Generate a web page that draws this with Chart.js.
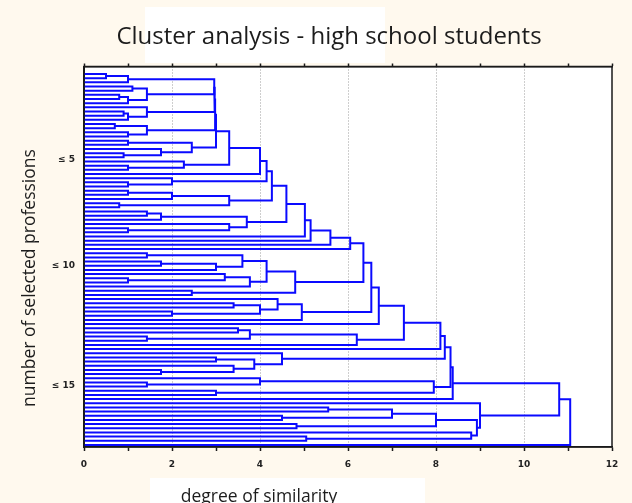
<!DOCTYPE html>
<html>
<head>
<meta charset="utf-8">
<title>Cluster analysis - high school students</title>
<script src="https://cdn.jsdelivr.net/npm/chart.js@4.4.1/dist/chart.umd.min.js"></script>
<style>
  html, body { margin: 0; padding: 0; background: #fff9ee; }
  #wrap { position: relative; width: 632px; height: 503px; }
</style>
</head>
<body>
<div id="wrap"><canvas id="chart" width="632" height="503"></canvas></div>
<script>
// Linkage distance at which each student joins the next one in leaf order
// (leaf i and leaf i+1 meet at joinHeights[i]); the tree follows from it.
const joinHeights = [
  0.5, 1.0, 2.96, 1.1, 1.43, 0.8, 1.0, 2.97, 1.43, 0.9,
  1.0, 2.98, 0.7, 1.43, 1.0, 3.0, 1.0, 2.45, 1.75, 0.9,
  3.3, 2.27, 1.0, 4.0, 4.15, 2.0, 1.0, 4.27, 1.0, 2.0,
  3.3, 0.8, 4.6, 1.43, 1.75, 3.7, 3.3, 1.0, 5.02, 5.15,
  5.6, 6.05, 6.35, 1.43, 3.6, 1.75, 3.0, 4.15, 3.2, 1.0,
  3.77, 4.8, 2.45, 6.53, 4.4, 3.4, 4.0, 2.0, 4.95, 6.7,
  7.27, 3.5, 3.77, 1.43, 6.2, 8.1, 8.2, 4.5, 3.0, 3.87,
  3.4, 1.75, 8.33, 4.0, 1.43, 7.95, 3.0, 8.38, 10.8, 9.0,
  5.55, 7.0, 4.5, 8.0, 4.83, 8.93, 8.8, 5.05, 11.05
];
const leafCount = joinHeights.length + 1;

// Group labels on the vertical axis and the leaf positions they sit at
const groupLabels = ['\u2264 5', '\u2264 10', '\u2264 15'];
const groupLabelLeaves = [20.6, 46.1, 74.8];

// Distance axis
const xMin = 0, xMax = 12, xStep = 1, xLabelEvery = 2;

const chartTitle = 'Cluster analysis - high school students';
const xTitle = 'degree of similarity';
const yTitle = 'number of selected professions';

// Build the U-shaped links of the dendrogram: split each leaf range at its
// largest join height, recursively.
const links = [];
function buildCluster(lo, hi) {
  if (lo === hi) return { y: lo, h: 0 };
  let k = lo;
  for (let i = lo; i < hi; i++) if (joinHeights[i] > joinHeights[k]) k = i;
  const a = buildCluster(lo, k);
  const b = buildCluster(k + 1, hi);
  const h = joinHeights[k];
  links.push([
    { x: a.h, y: a.y }, { x: h, y: a.y },
    { x: h, y: b.y }, { x: b.h, y: b.y }
  ]);
  return { y: (a.y + b.y) / 2, h: h };
}
buildCluster(0, leafCount - 1);

const LINK_COLOR = '#0a0aff';
const datasets = links.map(pts => ({
  data: pts,
  showLine: true,
  borderColor: LINK_COLOR,
  borderWidth: 2,
  pointRadius: 0,
  fill: false,
  tension: 0,
  borderJoinStyle: 'miter',
  clip: 4
}));

const CREAM = '#fff9ee';
const tickFont = { family: 'DejaVu Sans', size: 9, weight: 'bold' };
const labelFont = '17.5px "Open Sans"';

// Paper background, white plot area and frame, plus the titles
const decorPlugin = {
  id: 'decor',
  beforeDraw(chart) {
    const { ctx, chartArea: a } = chart;
    ctx.save();
    ctx.fillStyle = CREAM;
    ctx.fillRect(0, 0, chart.width, chart.height);
    ctx.fillStyle = '#ffffff';
    ctx.fillRect(145, 7, 240, 56);
    ctx.fillRect(150, 478, 275, 30);
    ctx.fillRect(a.left, a.top, a.right - a.left, a.bottom - a.top);
    ctx.restore();
  },
  afterDraw(chart) {
    const { ctx, chartArea: a } = chart;
    ctx.save();
    ctx.strokeStyle = '#1a1a1a';
    ctx.lineWidth = 1.5;
    ctx.strokeRect(a.left, a.top, a.right - a.left, a.bottom - a.top);

    ctx.fillStyle = '#1c1c1c';
    ctx.textAlign = 'center';
    ctx.textBaseline = 'alphabetic';
    ctx.font = '24px "Open Sans"';
    ctx.fillText(chartTitle, 329, 44);

    ctx.font = labelFont;
    ctx.fillText(xTitle, 259, 502);

    ctx.translate(35, 278);
    ctx.rotate(-Math.PI / 2);
    ctx.fillText(yTitle, 0, 0);
    ctx.restore();
  }
};

new Chart(document.getElementById('chart'), {
  type: 'scatter',
  data: { datasets },
  options: {
    responsive: false,
    animation: false,
    events: [],
    layout: { padding: { left: 0, right: 20, top: 0, bottom: 0 } },
    plugins: { legend: { display: false }, tooltip: { enabled: false }, title: { display: false } },
    scales: {
      x: {
        type: 'linear',
        position: 'bottom',
        min: xMin, max: xMax,
        afterFit(s) { s.height = 56; },
        ticks: {
          stepSize: xStep,
          autoSkip: false,
          maxRotation: 0,
          padding: 8,
          color: '#222',
          font: tickFont,
          callback: v => (v % xLabelEvery === 0 ? String(v) : '')
        },
        grid: {
          color: c => (c.tick && c.tick.value % xLabelEvery === 0 && c.tick.value > xMin && c.tick.value < xMax) ? '#9c9c9c' : 'rgba(0,0,0,0)',
          tickColor: '#1a1a1a',
          tickBorderDash: [],
          lineWidth: 1,
          tickWidth: 1.5,
          tickLength: 4
        },
        border: { display: true, color: '#1a1a1a', width: 1.5, dash: [1, 2] }
      },
      x2: {
        type: 'linear',
        position: 'top',
        min: xMin, max: xMax,
        afterFit(s) { s.height = 66.5; },
        ticks: { stepSize: xStep, display: false },
        grid: { drawOnChartArea: false, tickColor: '#1a1a1a', tickLength: 3, tickWidth: 1.5 },
        border: { display: true, color: '#1a1a1a', width: 1.5 }
      },
      y: {
        type: 'linear',
        position: 'left',
        reverse: true,
        min: -1.8, max: leafCount - 0.5,
        afterFit(s) { s.width = 84; },
        afterBuildTicks(s) { s.ticks = groupLabelLeaves.map(v => ({ value: v })); },
        ticks: {
          padding: 9,
          color: '#222',
          font: tickFont,
          callback: (v, i) => groupLabels[i]
        },
        grid: { display: false, drawTicks: false },
        border: { display: true, color: '#1a1a1a', width: 2 }
      }
    }
  },
  plugins: [decorPlugin]
});
</script>
</body>
</html>
